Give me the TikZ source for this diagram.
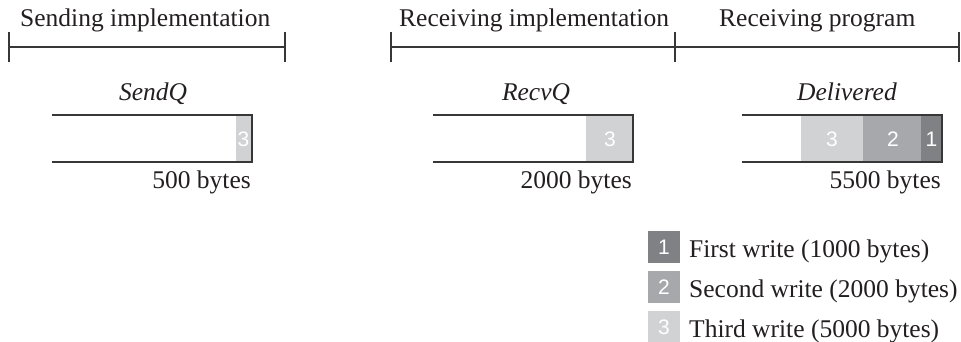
\documentclass[tikz,border=0pt]{standalone}
\usepackage{fontspec}
\setmainfont{Liberation Serif}
\newfontfamily\digitfont{Liberation Sans}
\definecolor{cone}{RGB}{128,129,132}
\definecolor{ctwo}{RGB}{167,168,171}
\definecolor{cthree}{RGB}{209,210,212}
\definecolor{outl}{RGB}{55,55,55}
\definecolor{txt}{RGB}{35,31,32}
\tikzset{
  lbl/.style={inner sep=0pt, text=txt, font=\fontsize{25.5}{30}\selectfont},
  ilbl/.style={inner sep=0pt, text=txt, font=\fontsize{25.5}{30}\selectfont\itshape, anchor=base},
  num/.style={inner sep=0pt, text=white, font=\fontsize{21}{24}\selectfont\digitfont},
  hdr/.style={draw=outl, line width=1.5pt},
  boxline/.style={draw=outl, line width=1.6pt},
}
\begin{document}
\begin{tikzpicture}[x=1pt,y=-1pt]
\useasboundingbox (0,0) rectangle (961,341);
% headers
\node[lbl, anchor=base west] (hsend) at (20,26) {Sending implementation};
\node[lbl, anchor=base west] (hrecv) at (399,26) {Receiving implementation};
\node[lbl, anchor=base west] (hprog) at (719,26) {Receiving program};
\coordinate (s1) at (9,47); \coordinate (s2) at (285,47);
\coordinate (r1) at (391,47); \coordinate (r2) at (675,47); \coordinate (r3) at (959.2,47);
\draw[hdr] (s1) -- (s2);
\draw[hdr] (r1) -- (r3);
\foreach \c in {s1,s2,r1,r2,r3} \draw[hdr] ([yshift=-15pt]\c) -- ([yshift=15pt]\c);
% SendQ
\node[ilbl] (lsend) at (153,100) {SendQ};
\fill[cthree] (236,115) rectangle (252,162);
\node[num] (sn3) at (243.5,139) {3};
\draw[boxline] (52,115) -- (252,115) -- (252,162) -- (52,162);
\node[lbl, anchor=base east] (bsend) at (251,188) {500 bytes};
% RecvQ
\node[ilbl] (lrecv) at (536,100) {RecvQ};
\fill[cthree] (586,115) rectangle (633,162);
\node[num] (rn3) at (610,139) {3};
\draw[boxline] (433,115) -- (633,115) -- (633,162) -- (433,162);
\node[lbl, anchor=base east] (brecv) at (632,188) {2000 bytes};
% Delivered
\node[ilbl] (ldel) at (847,100) {Delivered};
\fill[cthree] (801,115) rectangle (863,162);
\fill[ctwo] (863,115) rectangle (921,162);
\fill[cone] (921,115) rectangle (942,162);
\node[num] (dn3) at (832,139) {3};
\node[num] (dn2) at (893,139) {2};
\node[num] (dn1) at (931.5,139) {1};
\draw[boxline] (742,115) -- (942,115) -- (942,162) -- (742,162);
\node[lbl, anchor=base east] (bdel) at (941,188) {5500 bytes};
% legend
\fill[cone] (648,231) rectangle (680,263);
\fill[ctwo] (648,271) rectangle (680,303);
\fill[cthree] (648,311) rectangle (680,343);
\node[num] (k1) at (664,247) {1};
\node[num] (k2) at (664,287) {2};
\node[num] (k3) at (664,327) {3};
\node[lbl, anchor=base west] (t1) at (689,257) {First write (1000 bytes)};
\node[lbl, anchor=base west] (t2) at (689,297) {Second write (2000 bytes)};
\node[lbl, anchor=base west] (t3) at (689,337) {Third write (5000 bytes)};
\end{tikzpicture}
\end{document}
